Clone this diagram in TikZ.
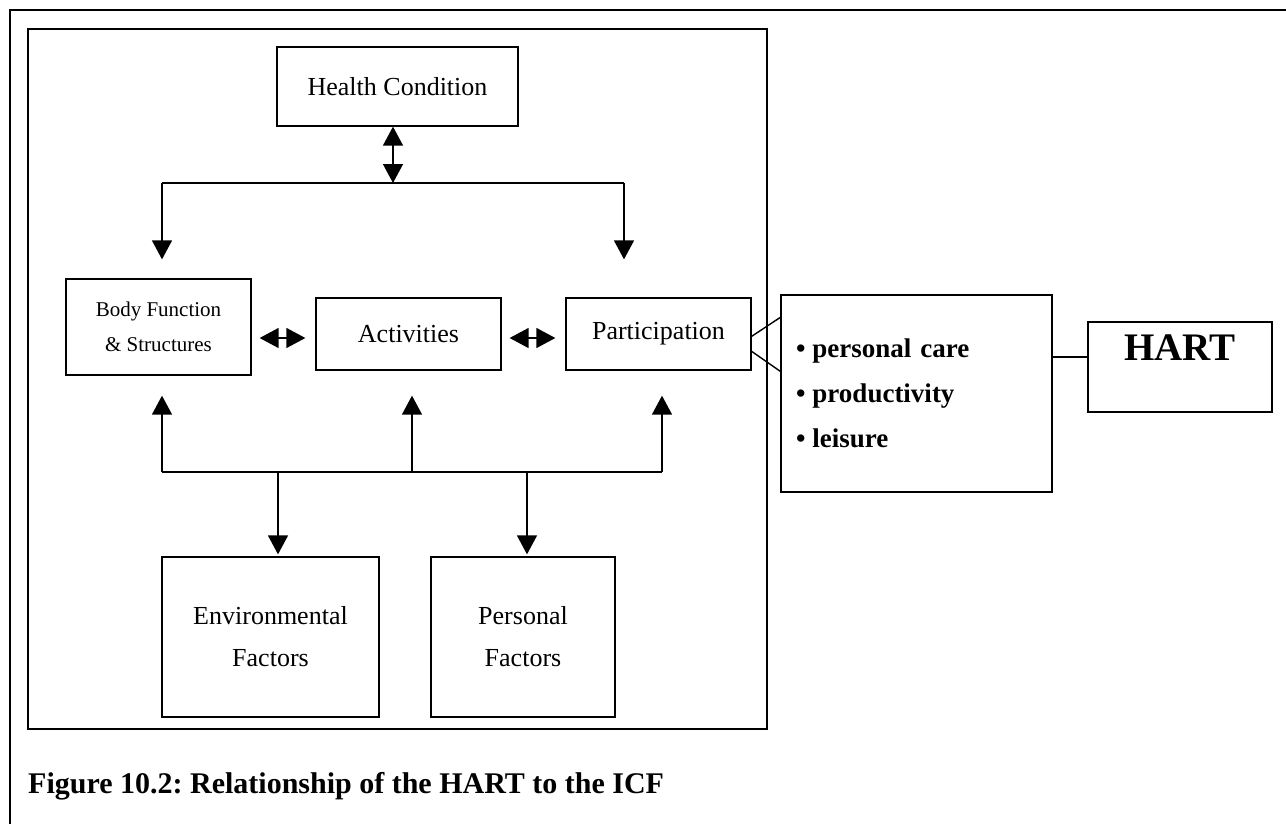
\documentclass[tikz,border=0pt]{standalone}
\usepackage{fontspec}
\setmainfont{Liberation Serif}
\usetikzlibrary{arrows.meta,calc}
\tikzset{
  boxnode/.style={draw, line width=1.3pt, inner sep=0pt, align=center},
  conn/.style={line width=1.4pt},
  arr/.style={conn, -{Triangle[width=20pt,length=19pt]}},
  darr/.style={conn, {Triangle[width=20pt,length=19pt]}-{Triangle[width=20pt,length=19pt]}},
  bigtxt/.style={font=\fontsize{26}{32}\selectfont},
}
\frenchspacing
\begin{document}
\begin{tikzpicture}[x=1pt,y=-1pt]
\useasboundingbox (0,0) rectangle (1286,823);
% outer frame (top and left visible)
\draw[line width=2.6pt] (1290,10) -- (10,10) -- (10,830);
% inner frame
\draw[line width=1.4pt] (28,29) rectangle (767,729);

% boxes
\node[boxnode, bigtxt, minimum width=241pt, minimum height=79pt] (hc) at (397.5,86.5) {Health Condition};
\node[boxnode, font=\fontsize{21}{35}\selectfont, minimum width=185pt, minimum height=96pt] (body) at (158.5,327) {Body Function\\\& Structures};
\node[boxnode, bigtxt, minimum width=185pt, minimum height=72pt] (act) at (408.5,334) {Activities};
\node[boxnode, bigtxt, minimum width=185pt, minimum height=72pt] (part) at (658.5,334) {Participation};
\node[boxnode, font=\fontsize{26}{42}\selectfont, minimum width=217pt, minimum height=160pt] (env) at (270.5,637) {Environmental\\Factors};
\node[boxnode, font=\fontsize{26}{42}\selectfont, minimum width=184pt, minimum height=160pt] (pers) at (523,637) {Personal\\Factors};
\node[boxnode, font=\fontsize{27}{45}\selectfont\bfseries, align=left, text width=241pt, inner xsep=15pt, minimum height=197pt] (list) at (916.5,393.5)
  {\textbullet\hspace{7pt}personal care\\\textbullet\hspace{7pt}productivity\\\textbullet\hspace{7pt}leisure};
\node[boxnode, font=\fontsize{39}{45}\selectfont\bfseries, minimum width=184pt, text height=38pt, text depth=52pt] (hart) at (1180,367) {HART};

% caption
\node[anchor=base west, inner sep=0pt, font=\fontsize{30}{34}\selectfont\bfseries] (cap) at (28,793) {Figure 10.2: Relationship of the HART to the ICF};

% top connectors
\coordinate (tj) at (393,183);
\coordinate (tl) at (162,183);
\coordinate (tr) at (624,183);
\draw[darr] (hc.south -| tj) -- (tj);
\draw[conn] (tl) -- (tr);
\draw[arr, shorten >=19pt] (tl) -- (body.north -| tl);
\draw[arr, shorten >=38pt] (tr) -- (part.north -| tr);

% horizontal double arrows
\draw[darr, shorten <=8pt, shorten >=10pt] ([yshift=-11pt]body.east) -- ([yshift=-4pt]act.west);
\draw[darr, shorten <=8pt, shorten >=10pt] ([yshift=-4pt]act.east) -- ([yshift=-4pt]part.west);

% bottom connectors
\coordinate (bl) at (162,472);
\coordinate (bm) at (412,472);
\coordinate (br) at (662,472);
\coordinate (be) at (278,472);
\coordinate (bp) at (527,472);
\draw[conn] (bl) -- (br);
\draw[arr, shorten >=20pt] (bl) -- (body.south -| bl);
\draw[arr, shorten >=25pt] (bm) -- (act.south -| bm);
\draw[arr, shorten >=25pt] (br) -- (part.south -| br);
\draw[arr, shorten >=2pt] (be) -- (env.north -| be);
\draw[arr, shorten >=2pt] (bp) -- (pers.north -| bp);

% participation to list
\draw[conn] ([yshift=-39pt]part.north east) -- ([yshift=-23pt]list.north west);
\draw[conn] ([yshift=-54pt]part.north east) -- ([yshift=-77pt]list.north west);

% list to HART
\draw[conn] ([yshift=10pt]hart.west) -- ([yshift=10pt]hart.west -| list.east);
\end{tikzpicture}
\end{document}
